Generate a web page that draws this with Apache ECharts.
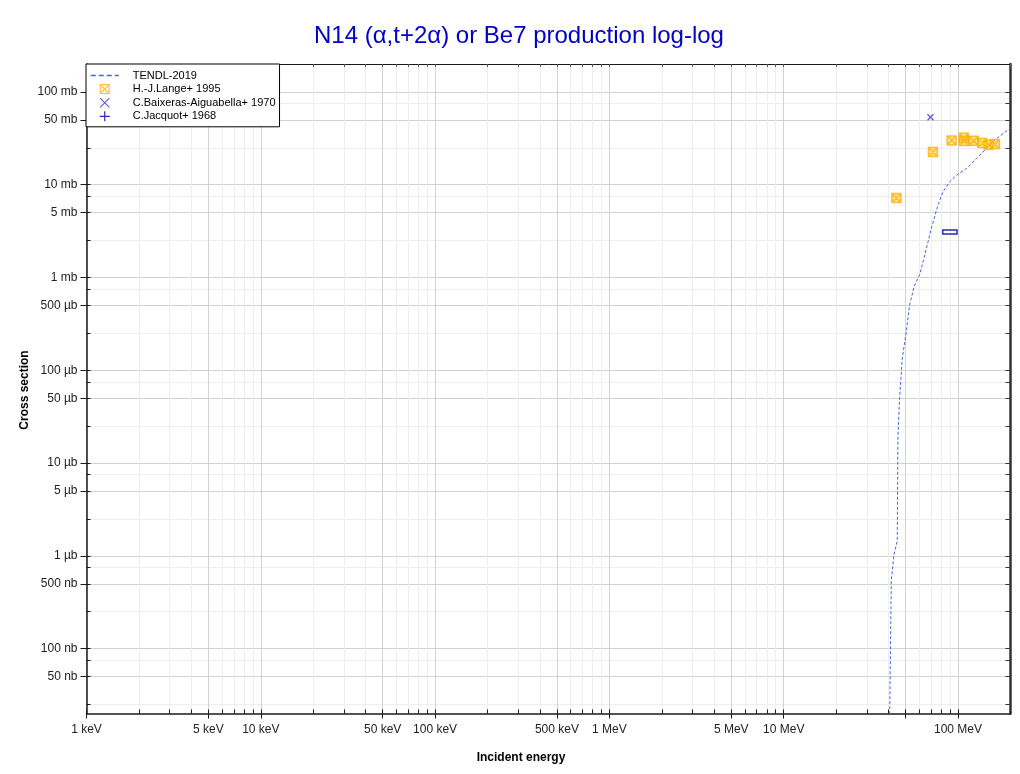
<!DOCTYPE html>
<html>
<head>
<meta charset="utf-8">
<script src="https://cdn.jsdelivr.net/npm/echarts@6/dist/echarts.min.js"></script>
<style>html,body{margin:0;padding:0;background:#fff}#c{width:1020px;height:774px}</style>
</head>
<body>
<div id="c"></div>
<script>
// ---- data (energy in MeV, cross section in mb) ----
const tendlEnergy = [39.8, 41.4, 42.9, 44.8, 45.2, 46.2, 47.9, 50.5, 52.7, 56.3, 60.1, 63.7, 70.2, 76.6, 81.8, 89.4, 97.7, 111.5, 127.1, 145.1, 165.6, 197.4, 200];
const tendlSigma  = [1e-6, 5.4e-4, 1.03e-3, 1.45e-3, 1.86e-2, 5.0e-2, 0.135, 0.262, 0.503, 0.826, 1.06, 1.6, 3.36, 5.98, 8.34, 10.7, 12.6, 14.9, 19.0, 24.4, 31.3, 40.0, 40.5];
const langeEnergy = [44.3, 71.8, 91.9, 108, 108, 123, 137.8, 149.7, 162.8];
const langeSigma  = [7.2, 22.5, 29.9, 32.0, 29.5, 29.7, 28.1, 26.9, 27.4];
const baixerasEnergy = [69.5];
const baixerasSigma  = [53.4];
const jacquotEnergy = [89.4];
const jacquotSigma  = [3.1];
const jacquotEnergyLow  = [81.8];
const jacquotEnergyHigh = [98.6];

// ---- ticks ----
const xLabelValues = [0.001, 0.005, 0.01, 0.05, 0.1, 0.5, 1, 5, 10, 100];
const xLabelTexts  = ['1 keV', '5 keV', '10 keV', '50 keV', '100 keV', '500 keV', '1 MeV', '5 MeV', '10 MeV', '100 MeV'];
const xMajorTicks  = [0.001, 0.005, 0.01, 0.05, 0.1, 0.5, 1, 5, 10, 50, 100];
const yLabelValues = [100, 50, 10, 5, 1, 0.5, 0.1, 0.05, 0.01, 0.005, 0.001, 0.0005, 0.0001, 0.00005];
const yLabelTexts  = ['100 mb', '50 mb', '10 mb', '5 mb', '1 mb', '500 µb', '100 µb', '50 µb', '10 µb', '5 µb', '1 µb', '500 nb', '100 nb', '50 nb'];
const xMin = 0.001, xMax = 200, yMin = 2e-5, yMax = 200;

const L = Math.log10;
const xMinorTicks = [];
for (let d = -3; d <= 2; d++) for (let m = 1; m <= 9; m++) { const v = m * Math.pow(10, d); if (v <= xMax * 1.0001) xMinorTicks.push(v); }
const yRightTicks = [];
for (let d = -5; d <= 2; d++) for (const m of [1, 2.5, 5, 7.5]) { const v = m * Math.pow(10, d); if (v >= yMin && v <= yMax) yRightTicks.push(v); }

function findLabel(vals, texts, v) {
  for (let i = 0; i < vals.length; i++) if (Math.abs(L(vals[i]) - v) < 1e-6) return texts[i];
  return '';
}

const font = 'Liberation Sans, Arial, sans-serif';
const darkGrid = '#d2d2d2', lightGrid = '#eeeeee';
const axisColor = '#1a1a1a';
const langeColor = '#ffb000', baixColor = '#3434d8', jacqColor = '#2828b8', tendlColor = '#3f66e8';

function valAxisX(extra) {
  return Object.assign({
    type: 'value', gridIndex: 0, min: L(xMin), max: L(xMax), position: 'bottom',
    axisLine: { show: false, onZero: false }, axisTick: { show: false }, axisLabel: { show: false },
    splitLine: { show: false }
  }, extra);
}
function valAxisY(extra) {
  return Object.assign({
    type: 'value', gridIndex: 0, min: L(yMin), max: L(yMax), position: 'left',
    axisLine: { show: false, onZero: false }, axisTick: { show: false }, axisLabel: { show: false },
    splitLine: { show: false }
  }, extra);
}

const chart = echarts.init(document.getElementById('c'), null, { renderer: 'canvas' });
chart.setOption({
  backgroundColor: '#ffffff',
  animation: false,
  title: {
    text: 'N14 (α,t+2α) or Be7 production log-log',
    left: 309, top: 19,
    textStyle: { color: '#0000cc', fontSize: 24, fontWeight: 'normal', fontFamily: font }
  },
  grid: { left: 86.5, right: 9.5, top: 64, bottom: 60.5, containLabel: false },
  legend: {
    left: 86, top: 64, orient: 'vertical',
    backgroundColor: '#ffffff', borderColor: '#000', borderWidth: 1,
    padding: [6, 4, 5, 4], itemGap: 2.6, itemWidth: 28, itemHeight: 10,
    textStyle: { fontSize: 11, fontFamily: font, color: '#000', padding: [0, 0, 0, 9] },
    data: [
      { name: 'TENDL-2019', itemStyle: { color: 'rgba(0,0,0,0)', borderWidth: 0 },
        lineStyle: { color: tendlColor, type: [5, 3], width: 1.5 } },
      { name: 'H.-J.Lange+ 1995',
        icon: 'path://M0,0H10V10H0Z M1.2,1.2V8.8H8.8V1.2Z M1.2,2L2,1.2L8.8,8L8,8.8Z M8,1.2L8.8,2L2,8.8L1.2,8Z',
        itemStyle: { color: langeColor, borderWidth: 0 } },
      { name: 'C.Baixeras-Aiguabella+ 1970',
        icon: 'path://M0,0.8L0.8,0L10,9.2L9.2,10Z M9.2,0L10,0.8L0.8,10L0,9.2Z',
        itemStyle: { color: baixColor, borderWidth: 0 } },
      { name: 'C.Jacquot+ 1968',
        icon: 'path://M4.4,0H5.6V10H4.4Z M0,4.4H10V5.6H0Z',
        itemStyle: { color: jacqColor, borderWidth: 0 } }
    ]
  },
  xAxis: [
    { type: 'log', gridIndex: 0, min: xMin, max: xMax, logBase: 10, show: false },
    valAxisX({
      axisTick: { show: true, inside: true, length: 4, customValues: xMinorTicks.map(L), lineStyle: { color: axisColor } },
      splitLine: { show: true, lineStyle: { color: lightGrid, width: 1 } }
    }),
    valAxisX({
      axisLine: { show: true, onZero: false, lineStyle: { color: axisColor, width: 1.5 } },
      axisTick: { show: true, inside: false, length: 5, customValues: xMajorTicks.map(L), lineStyle: { color: axisColor } },
      axisLabel: { show: true, customValues: xLabelValues.map(L), margin: 10, fontSize: 12, fontFamily: font, color: '#222',
        formatter: v => findLabel(xLabelValues, xLabelTexts, v) },
      splitLine: { show: true, lineStyle: { color: darkGrid, width: 1 } }
    }),
    valAxisX({
      position: 'top',
      axisLine: { show: true, onZero: false, lineStyle: { color: axisColor, width: 1 } },
      axisTick: { show: true, inside: true, length: 3, customValues: xMinorTicks.map(L), lineStyle: { color: '#555' } }
    })
  ],
  yAxis: [
    { type: 'log', gridIndex: 0, min: yMin, max: yMax, logBase: 10, show: false },
    valAxisY({
      axisTick: { show: true, inside: true, length: 4, customValues: yRightTicks.map(L), lineStyle: { color: axisColor } },
      splitLine: { show: true, lineStyle: { color: lightGrid, width: 1 } }
    }),
    valAxisY({
      axisLine: { show: true, onZero: false, lineStyle: { color: axisColor, width: 1.5 } },
      axisTick: { show: true, inside: false, length: 6, customValues: yLabelValues.map(L), lineStyle: { color: axisColor } },
      axisLabel: { show: true, customValues: yLabelValues.map(L), margin: 9, fontSize: 12, fontFamily: font, color: '#222',
        formatter: v => findLabel(yLabelValues, yLabelTexts, v) },
      splitLine: { show: true, lineStyle: { color: darkGrid, width: 1 } }
    }),
    valAxisY({
      position: 'right',
      axisLine: { show: true, onZero: false, lineStyle: { color: '#333', width: 2.5 } },
      axisTick: { show: true, inside: true, length: 5, customValues: yRightTicks.map(L), lineStyle: { color: '#333' } }
    })
  ],
  graphic: [
    { type: 'text', x: 25, y: 390, rotation: Math.PI / 2,
      style: { text: 'Cross section', fill: '#000', font: 'bold 12px ' + font, textAlign: 'center', textVerticalAlign: 'middle' } },
    { type: 'text', x: 521, y: 758,
      style: { text: 'Incident energy', fill: '#000', font: 'bold 12px ' + font, textAlign: 'center', textVerticalAlign: 'middle' } }
  ],
  series: [
    {
      name: 'TENDL-2019', type: 'line', xAxisIndex: 0, yAxisIndex: 0,
      data: tendlEnergy.map((e, i) => [e, tendlSigma[i]]),
      symbol: 'none', clip: true, z: 3,
      lineStyle: { color: tendlColor, width: 1, type: [3, 2] },
      itemStyle: { color: tendlColor }
    },
    {
      name: 'H.-J.Lange+ 1995', type: 'scatter', xAxisIndex: 0, yAxisIndex: 0,
      data: langeEnergy.map((e, i) => [e, langeSigma[i]]),
      symbol: 'path://M0,0H10V10H0Z M0,0L10,10 M10,0L0,10', symbolSize: 9, z: 4,
      itemStyle: { color: 'rgba(255,200,60,0.6)', borderColor: langeColor, borderWidth: 1.5 }
    },
    {
      name: 'C.Baixeras-Aiguabella+ 1970', type: 'scatter', xAxisIndex: 0, yAxisIndex: 0,
      data: baixerasEnergy.map((e, i) => [e, baixerasSigma[i]]),
      symbol: 'path://M0,0L10,10 M10,0L0,10', symbolSize: 6, z: 4,
      itemStyle: { color: 'none', borderColor: baixColor, borderWidth: 1.3 }
    },
    {
      name: 'C.Jacquot+ 1968', type: 'custom', xAxisIndex: 0, yAxisIndex: 0, z: 4,
      data: jacquotEnergy.map((e, i) => [e, jacquotSigma[i], jacquotEnergyLow[i], jacquotEnergyHigh[i]]),
      itemStyle: { color: jacqColor },
      renderItem: function (params, api) {
        const lo = api.coord([api.value(2), api.value(1)]);
        const hi = api.coord([api.value(3), api.value(1)]);
        return {
          type: 'rect',
          shape: { x: lo[0], y: lo[1] - 2, width: hi[0] - lo[0], height: 4 },
          style: { fill: 'rgba(255,255,255,0)', stroke: jacqColor, lineWidth: 1.5 }
        };
      }
    }
  ]
});
</script>
</body>
</html>
